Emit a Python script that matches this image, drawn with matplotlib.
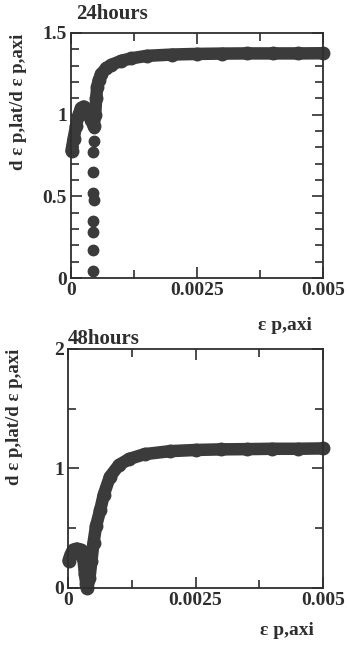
import matplotlib.pyplot as plt
from matplotlib.ticker import MultipleLocator

plt.rcParams['font.family'] = ['Liberation Serif', 'DejaVu Serif']
plt.rcParams['font.weight'] = 'bold'

# 24 hours: dense curve and the separated dots
x24_curve = [0.00001, 0.00005, 0.0001, 0.00015, 0.0002, 0.00025, 0.0003, 0.00035,
             0.0004, 0.00045, 0.00048, 0.0005, 0.00052, 0.00055, 0.0006, 0.0007,
             0.0008, 0.001, 0.0012, 0.0015, 0.002, 0.0025, 0.003, 0.0035, 0.004,
             0.0045, 0.005]
y24_curve = [0.78, 0.85, 0.93, 1.0, 1.04, 1.05, 1.03, 1.0, 0.97, 0.93, 1.0, 1.1,
             1.17, 1.21, 1.25, 1.285, 1.305, 1.33, 1.345, 1.36, 1.368, 1.372,
             1.374, 1.375, 1.375, 1.375, 1.376]
x24_dots = [0.00044, 0.00043, 0.00044, 0.00043, 0.00045, 0.00044, 0.00044,
            0.00044, 0.00045, 0.00045]
y24_dots = [0.04, 0.17, 0.28, 0.35, 0.48, 0.52, 0.65, 0.77, 0.84, 0.92]

# 48 hours
x48_curve = [0.00001, 0.00005, 0.0001, 0.00017, 0.00025, 0.0003, 0.00033,
             0.00036, 0.00038, 0.00042, 0.00046, 0.0005, 0.00055, 0.00063,
             0.0007, 0.00082, 0.001, 0.0012, 0.0015, 0.002, 0.0025, 0.003,
             0.0035, 0.004, 0.0045, 0.005]
y48_curve = [0.23, 0.28, 0.32, 0.33, 0.32, 0.25, 0.12, 0.03, 0.0, 0.08, 0.23,
             0.38, 0.52, 0.65, 0.78, 0.93, 1.03, 1.08, 1.12, 1.145, 1.155, 1.16,
             1.162, 1.165, 1.165, 1.168]

ink = '#3b3b3b'
txt = '#2e2e2e'

fig = plt.figure(figsize=(3.47, 6.47), dpi=100)
ax1 = fig.add_axes([0.2046, 0.5703, 0.726, 0.3787])
ax2 = fig.add_axes([0.196, 0.0912, 0.735, 0.3694])

ax1.plot(x24_curve, y24_curve, color=ink, lw=9, marker='o', ms=9,
         solid_capstyle='round', solid_joinstyle='round', clip_on=False)
ax1.plot(x24_dots, y24_dots, 'o', color=ink, ms=7.5, clip_on=False)
ax1.set_ylim(0, 1.5)
ax1.set_yticks([0, 0.5, 1, 1.5], ['0', '0.5', '1', '1.5'])
ax1.yaxis.set_minor_locator(MultipleLocator(0.1))
ax1.text(0.02, 1.035, '24hours', transform=ax1.transAxes, fontsize=15,
         fontweight='bold', color=txt, va='bottom')

ax2.plot(x48_curve, y48_curve, color=ink, lw=9, marker='o', ms=9,
         solid_capstyle='round', solid_joinstyle='round', clip_on=False)
ax2.set_ylim(0, 2)
ax2.set_yticks([0, 1, 2], ['0', '1', '2'])
ax2.yaxis.set_minor_locator(MultipleLocator(0.5))
ax2.text(0.0, 1.0, '48hours', transform=ax2.transAxes, fontsize=15,
         fontweight='bold', color=txt, va='bottom')

for ax in (ax1, ax2):
    ax.set_xlim(0, 0.005)
    ax.set_xticks([0, 0.0025, 0.005], ['0', '0.0025', '0.005'])
    ax.xaxis.set_minor_locator(MultipleLocator(0.00125))
    ax.tick_params(which='both', direction='in', top=True, right=True,
                   colors=txt, labelsize=14, width=1.2)
    ax.tick_params(which='major', length=8, pad=3)
    ax.tick_params(which='minor', length=5.5)
    for s in ax.spines.values():
        s.set_linewidth(1.3)
        s.set_color(txt)
    ax.set_ylabel('d ε p,lat/d ε p,axi', fontsize=13.5, fontweight='bold', color=txt)
    ax.set_xlabel('ε p,axi', fontsize=14, fontweight='bold', color=txt)

ax1.yaxis.set_label_coords(-0.175, 0.72)
ax1.xaxis.set_label_coords(0.85, -0.16)
ax2.yaxis.set_label_coords(-0.176, 0.715)
ax2.xaxis.set_label_coords(0.86, -0.142)

plt.savefig('out.png', dpi=100)
